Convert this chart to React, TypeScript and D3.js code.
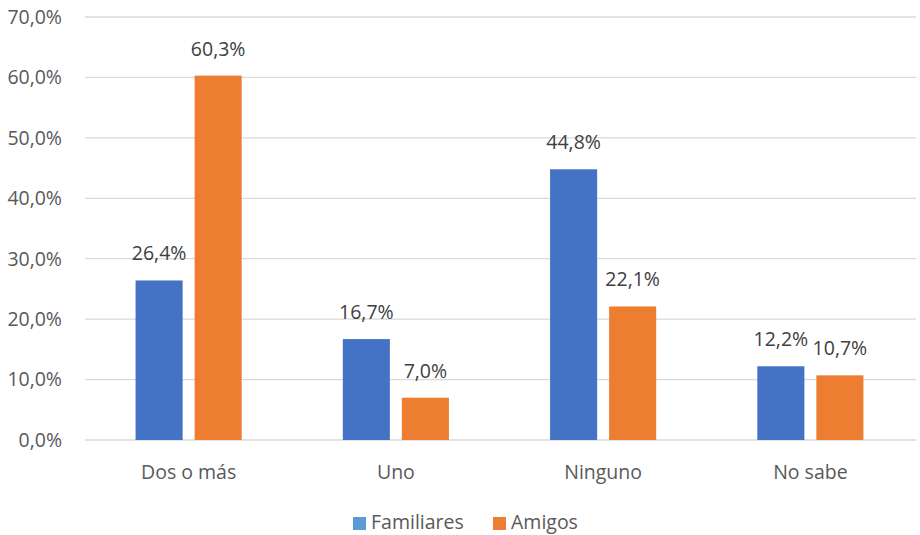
import React from "react";
import * as d3 from "d3";

const categories = ["Dos o más", "Uno", "Ninguno", "No sabe"];
const seriesNames = ["Familiares", "Amigos"];
const familiares = [26.4, 16.7, 44.8, 12.2];
const amigos = [60.3, 7.0, 22.1, 10.7];
const yTicks = [0, 10, 20, 30, 40, 50, 60, 70];

const barColors = ["#4472C4", "#ED7D31"];
const legendColors = ["#5B9BD5", "#ED7D31"];

const W = 920;
const H = 535;
const FONT = "'Open Sans', sans-serif";

const fmt = (v: number) => v.toFixed(1).replace(".", ",") + "%";

export default function App() {
  const y = d3.scaleLinear().domain([0, 70]).range([440, 17]);
  const x0 = d3.scaleBand<string>().domain(categories).range([85, 914]).paddingInner(0.488).paddingOuter(0.244);
  const x1 = d3.scaleBand<string>().domain(seriesNames).range([0, x0.bandwidth()]).paddingInner(0.203).paddingOuter(0);
  const data = [familiares, amigos];

  return (
    <svg width={W} height={H} style={{ display: "block", position: "absolute", left: 0, top: 0 }} fontFamily={FONT}>
      <rect width={W} height={H} fill="#fff" />
      {yTicks.map((t) => (
        <g key={t}>
          <line x1={85} x2={916} y1={y(t)} y2={y(t)} stroke="#d9d9d9" strokeWidth={1.3} />
          <text x={62} y={y(t)} dy="0.35em" textAnchor="end" fontSize={19.5} fill="#595959">
            {fmt(t)}
          </text>
        </g>
      ))}
      {categories.map((c, ci) => (
        <g key={c}>
          {seriesNames.map((s, si) => {
            const v = data[si][ci];
            const bx = (x0(c) as number) + (x1(s) as number);
            return (
              <g key={s}>
                <rect x={bx} y={y(v)} width={x1.bandwidth()} height={y(0) - y(v)} fill={barColors[si]} />
                <text x={bx + x1.bandwidth() / 2} y={y(v) - 20} textAnchor="middle" fontSize={19.5} fill="#404040">
                  {fmt(v)}
                </text>
              </g>
            );
          })}
          <text x={(x0(c) as number) + x0.bandwidth() / 2} y={472} dy="0.35em" textAnchor="middle" fontSize={19.5} fill="#595959">
            {c}
          </text>
        </g>
      ))}
      <g>
        <rect x={353} y={517} width={13} height={13} fill={legendColors[0]} />
        <text x={371} y={522.5} dy="0.35em" fontSize={19.5} fill="#595959">{seriesNames[0]}</text>
        <rect x={493} y={517} width={13} height={13} fill={legendColors[1]} />
        <text x={511} y={522.5} dy="0.35em" fontSize={19.5} fill="#595959">{seriesNames[1]}</text>
      </g>
    </svg>
  );
}
